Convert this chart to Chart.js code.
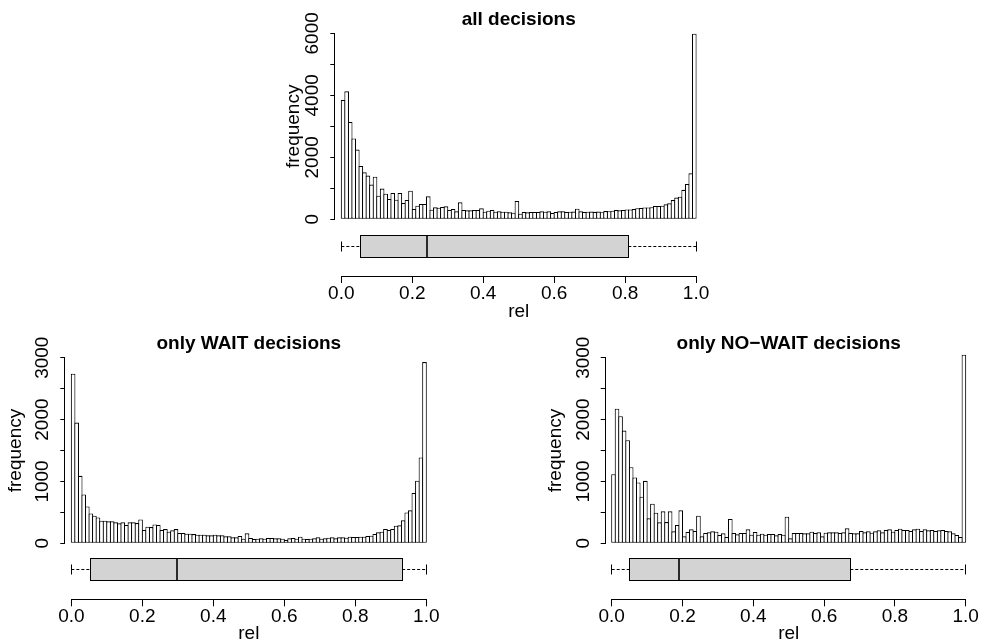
<!DOCTYPE html>
<html>
<head>
<meta charset="utf-8">
<title>rel histograms</title>
<script src="https://cdn.jsdelivr.net/npm/chart.js@4.4.0/dist/chart.umd.min.js"></script>
<style>
  body { margin: 0; background: #fff; }
  #wrap { position: relative; width: 981px; height: 643px; overflow: hidden; }
  canvas { position: absolute; }
</style>
</head>
<body>
<div id="wrap">
  <canvas id="allChart" width="500" height="330" style="left:240px;top:0px"></canvas>
  <canvas id="waitChart" width="490" height="313" style="left:0px;top:330px"></canvas>
  <canvas id="noWaitChart" width="491" height="313" style="left:490px;top:330px"></canvas>
</div>
<script>
// 100 bins of width 0.01 on [0, 1]
const binWidth = 0.01;
const xTicks = [0, 0.2, 0.4, 0.6, 0.8, 1.0];

// counts per bin
const allCounts = [
  3850, 4130, 3140, 2610, 2250, 1720, 1516, 1410, 1120, 1376,
  763, 990, 828, 656, 850, 634, 850, 527, 624, 925,
  333, 441, 495, 495, 742, 312, 387, 376, 398, 419,
  301, 333, 258, 548, 301, 290, 290, 301, 301, 355,
  247, 280, 301, 247, 258, 247, 247, 226, 215, 591,
  183, 237, 226, 237, 237, 237, 258, 247, 258, 204,
  237, 258, 258, 237, 247, 250, 344, 258, 237, 247,
  250, 240, 250, 230, 265, 260, 280, 300, 290, 300,
  320, 320, 335, 360, 365, 385, 385, 390, 430, 430,
  440, 485, 515, 620, 700, 730, 950, 1140, 1484, 5990
];
const waitCounts = [
  2742, 1952, 1091, 790, 597, 484, 446, 419, 366, 366,
  355, 355, 339, 323, 339, 296, 339, 339, 328, 387,
  215, 269, 263, 306, 296, 215, 231, 188, 210, 231,
  167, 167, 156, 156, 150, 140, 140, 140, 129, 129,
  140, 129, 129, 113, 113, 97, 97, 118, 75, 161,
  86, 70, 75, 81, 75, 86, 86, 81, 81, 75,
  54, 81, 86, 75, 108, 75, 70, 75, 81, 97,
  75, 81, 91, 97, 81, 97, 97, 92, 108, 102,
  102, 108, 108, 118, 124, 151, 178, 188, 232, 215,
  232, 285, 291, 371, 500, 533, 813, 1012, 1389, 2930
];
const noWaitCounts = [
  1118, 2177, 2054, 1823, 1667, 1231, 1065, 984, 753, 1011,
  404, 641, 495, 339, 517, 344, 517, 194, 296, 533,
  113, 183, 226, 199, 447, 113, 167, 178, 194, 188,
  135, 161, 102, 393, 167, 145, 167, 167, 226, 140,
  183, 140, 156, 140, 151, 151, 129, 150, 140, 431,
  81, 167, 167, 167, 161, 161, 188, 167, 177, 113,
  172, 177, 177, 177, 167, 177, 242, 167, 161, 161,
  199, 177, 194, 172, 194, 210, 177, 215, 226, 188,
  215, 237, 215, 215, 199, 226, 237, 199, 226, 210,
  215, 199, 210, 215, 199, 194, 161, 135, 102, 3050
];

// boxplot: lower whisker, Q1, median, Q3, upper whisker
const allBox = [0, 0.053, 0.242, 0.809, 1];
const waitBox = [0, 0.055, 0.298, 0.932, 1];
const noWaitBox = [0, 0.049, 0.191, 0.674, 1];

// y ticks (marks) and the ones that get a label
const allYTicks = [0, 1000, 2000, 3000, 4000, 5000, 6000];
const allYLabels = [0, 2000, 4000, 6000];
const halfYTicks = [0, 500, 1000, 1500, 2000, 2500, 3000];
const halfYLabels = [0, 1000, 2000, 3000];

const FONT = '"Liberation Sans", Arial, Helvetica, sans-serif';
Chart.defaults.font.family = FONT;
Chart.defaults.color = '#000';

// draws the R-like bits: short axis lines, boxplot, main title, y title
const rStyle = {
  id: 'rStyle',
  afterDraw(chart, args, opts) {
    const ctx = chart.ctx;
    const area = chart.chartArea;
    const xs = chart.scales.x;
    const ys = chart.scales.y;
    const crisp = v => Math.round(v - 0.5) + 0.5;
    const px = v => xs.getPixelForValue(v);

    ctx.save();
    ctx.strokeStyle = '#000';
    ctx.lineWidth = 1;

    // axis lines only over the tick range
    const yTop = opts.yTicks[opts.yTicks.length - 1];
    const axisX = Math.round(area.left) - 0.5;
    const axisY = Math.round(area.bottom) + 0.5;
    ctx.beginPath();
    ctx.moveTo(axisX, crisp(ys.getPixelForValue(0)));
    ctx.lineTo(axisX, crisp(ys.getPixelForValue(yTop)));
    ctx.moveTo(crisp(px(xTicks[0])), axisY);
    ctx.lineTo(crisp(px(xTicks[xTicks.length - 1])), axisY);
    ctx.stroke();

    // horizontal boxplot under the histogram
    const [lo, q1, med, q3, hi] = opts.box;
    const bTop = crisp(area.bottom - 40.5);
    const bBot = crisp(area.bottom - 18.5);
    const mid = crisp(area.bottom - 29.5);
    ctx.fillStyle = '#d3d3d3';
    ctx.fillRect(crisp(px(q1)), bTop, crisp(px(q3)) - crisp(px(q1)), bBot - bTop);
    ctx.strokeRect(crisp(px(q1)), bTop, crisp(px(q3)) - crisp(px(q1)), bBot - bTop);

    ctx.setLineDash([3, 2]);
    ctx.beginPath();
    ctx.moveTo(px(lo), mid);
    ctx.lineTo(px(q1), mid);
    ctx.moveTo(px(q3), mid);
    ctx.lineTo(px(hi), mid);
    ctx.stroke();
    ctx.setLineDash([]);

    ctx.beginPath();
    ctx.moveTo(crisp(px(lo)), mid - 5);
    ctx.lineTo(crisp(px(lo)), mid + 5);
    ctx.moveTo(crisp(px(hi)), mid - 5);
    ctx.lineTo(crisp(px(hi)), mid + 5);
    ctx.stroke();

    ctx.lineWidth = 1.6;
    ctx.beginPath();
    ctx.moveTo(Math.round(px(med)), bTop);
    ctx.lineTo(Math.round(px(med)), bBot);
    ctx.stroke();

    // main title
    ctx.fillStyle = '#000';
    ctx.font = 'bold 19px ' + FONT;
    ctx.textAlign = 'center';
    ctx.textBaseline = 'alphabetic';
    ctx.fillText(opts.title, px(0.5), opts.titleBaseline);

    // y axis title
    ctx.font = '19px ' + FONT;
    ctx.textBaseline = 'middle';
    ctx.translate(area.left - opts.yTitleOffset, ys.getPixelForValue(yTop / 2));
    ctx.rotate(-Math.PI / 2);
    ctx.fillText('frequency', 0, 0);
    ctx.restore();
  }
};

function makePanel(id, p) {
  return new Chart(document.getElementById(id), {
    type: 'bar',
    data: {
      datasets: [{
        data: p.counts.map((c, i) => ({ x: (i + 0.5) * binWidth, y: c })),
        backgroundColor: '#fff',
        borderColor: '#000',
        borderWidth: 1.1,
        borderSkipped: false,
        inflateAmount: 0,
        categoryPercentage: 1,
        barPercentage: 1 + 1.1 / 3.55 // neighbours share one outline, like R
      }]
    },
    options: {
      responsive: false,
      animation: false,
      layout: { padding: { left: 0, top: p.areaTop, right: p.padRight, bottom: 0 } },
      plugins: {
        legend: { display: false },
        tooltip: { enabled: false },
        rStyle: { box: p.box, yTicks: p.yTicks, title: p.title,
                  titleBaseline: p.titleBaseline, yTitleOffset: p.yTitleOffset }
      },
      scales: {
        x: {
          type: 'linear',
          min: -0.017,
          max: 1.017,
          offset: false,
          afterBuildTicks: s => { s.ticks = xTicks.map(v => ({ value: v })); },
          afterFit: s => { s.height = p.xAxisHeight; },
          ticks: {
            autoSkip: false, maxRotation: 0, padding: 1, color: '#000',
            font: { size: 19, lineHeight: 1 },
            callback: v => v.toFixed(1)
          },
          grid: { display: true, offset: false, drawOnChartArea: false, drawTicks: true, tickLength: 7, color: '#000', lineWidth: 1 },
          border: { display: false },
          title: {
            display: true, text: 'rel', color: '#000',
            font: { size: 19, lineHeight: 1 },
            padding: { top: 0, bottom: p.relPad }
          }
        },
        y: {
          min: p.yMin,
          max: p.yMax,
          afterBuildTicks: s => { s.ticks = p.yTicks.map(v => ({ value: v })); },
          afterFit: s => { s.width = p.yAxisWidth; },
          ticks: {
            autoSkip: false, minRotation: 90, maxRotation: 90, crossAlign: 'center',
            padding: -4, color: '#000',
            font: { size: 19, lineHeight: 1 },
            callback: v => (p.yLabels.includes(v) ? String(v) : '')
          },
          grid: { display: true, offset: false, drawOnChartArea: false, drawTicks: true, tickLength: 5, color: '#000', lineWidth: 1 },
          border: { display: false }
        }
      }
    },
    plugins: [rStyle]
  });
}

makePanel('allChart', {
  counts: allCounts, box: allBox, yTicks: allYTicks, yLabels: allYLabels,
  title: 'all decisions', titleBaseline: 25,
  yMin: -1829, yMax: 6240,
  areaTop: 25.9, padRight: 37.9, yAxisWidth: 95.3, xAxisHeight: 54,
  relPad: 9.1, yTitleOffset: 42
});

makePanel('waitChart', {
  counts: waitCounts, box: waitBox, yTicks: halfYTicks, yLabels: halfYLabels,
  title: 'only WAIT decisions', titleBaseline: 19,
  yMin: -905, yMax: 3180,
  areaTop: 16.6, padRight: 57.7, yAxisWidth: 65.3, xAxisHeight: 43.7,
  relPad: 0.1, yTitleOffset: 49.3
});

makePanel('noWaitChart', {
  counts: noWaitCounts, box: noWaitBox, yTicks: halfYTicks, yLabels: halfYLabels,
  title: 'only NO\u2212WAIT decisions', titleBaseline: 19,
  yMin: -905, yMax: 3180,
  areaTop: 16.6, padRight: 9.3, yAxisWidth: 115.7, xAxisHeight: 43.7,
  relPad: 0.1, yTitleOffset: 50
});
</script>
</body>
</html>
